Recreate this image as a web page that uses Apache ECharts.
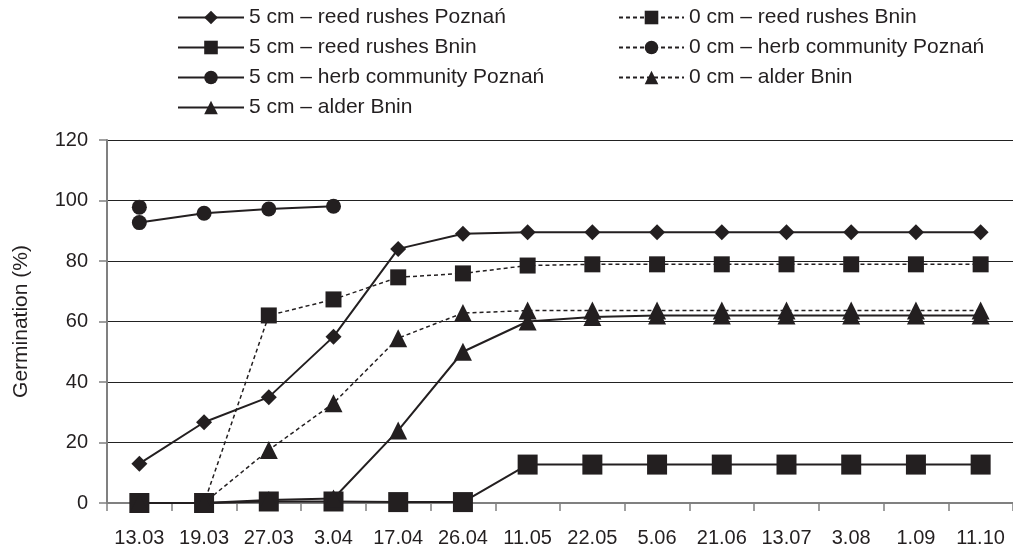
<!DOCTYPE html>
<html><head><meta charset="utf-8">
<script src="https://cdn.jsdelivr.net/npm/echarts@6/dist/echarts.min.js"></script>
<style>html,body{margin:0;padding:0;background:#fff}#c{width:1013px;height:554px}</style>
</head><body><div id="c"></div>
<script>
const categories = ['13.03','19.03','27.03','3.04','17.04','26.04','11.05','22.05','5.06','21.06','13.07','3.08','1.09','11.10'];
const yTicks = [0,20,40,60,80,100,120];
const reed5Poznan = [13,26.7,35,55,84,89,89.5,89.5,89.5,89.5,89.5,89.5,89.5,89.5];
const reed5Bnin   = [0,0,0.5,0.5,0.3,0.3,12.7,12.7,12.7,12.7,12.7,12.7,12.7,12.7];
const herb5Poznan = [92.7,95.8,97.2,98.1,null,null,null,null,null,null,null,null,null,null];
const alder5Bnin  = [0,0,1,1.5,24,50,60,61.5,62,62,62,62,62,62];
const reed0Bnin   = [0,0,62,67.3,74.6,75.9,78.5,78.9,78.9,78.9,78.9,78.9,78.9,78.9];
const herb0Poznan = [97.8,null,null,null,null,null,null,null,null,null,null,null,null,null];
const alder0Bnin  = [0,0,17.5,33,54.5,62.8,63.6,63.6,63.6,63.6,63.6,63.6,63.6,63.6];

const INK = '#231f20';
const FONT = '"Liberation Sans", Arial, sans-serif';
function solid(name, data, symbol, size){
  return {name, type:'line', data, symbol, symbolSize:size, connectNulls:false,
    lineStyle:{color:INK, width:2, type:'solid'}, itemStyle:{color:INK}, animation:false, z:3};
}
function dotted(name, data, symbol, size){
  return {name, type:'line', data, symbol, symbolSize:size, connectNulls:false,
    lineStyle:{color:INK, width:1.5, type:[4,3]}, itemStyle:{color:INK}, animation:false, z:2};
}
const series = [
  solid('5 cm – reed rushes Poznań', reed5Poznan, 'diamond', 16),
  solid('5 cm – reed rushes Bnin', reed5Bnin, 'rect', 20),
  solid('5 cm – herb community Poznań', herb5Poznan, 'circle', 15),
  solid('5 cm – alder Bnin', alder5Bnin, 'triangle', 18),
  dotted('0 cm – reed rushes Bnin', reed0Bnin, 'rect', 16),
  dotted('0 cm – herb community Poznań', herb0Poznan, 'circle', 15),
  dotted('0 cm – alder Bnin', alder0Bnin, 'triangle', 18)
];
const legendText = {color:INK, fontSize:21, fontFamily:FONT, lineHeight:20};
const chart = echarts.init(document.getElementById('c'), null, {renderer:'canvas'});
chart.setOption({
  backgroundColor:'#fff',
  animation:false,
  legend:[
    {orient:'vertical', left:177, top:7, itemWidth:66, itemHeight:17, itemGap:9, padding:0,
     textStyle:legendText, data:series.slice(0,4).map(s=>s.name)},
    {orient:'vertical', left:618, top:7, itemWidth:65, itemHeight:17, itemGap:9, padding:0,
     textStyle:legendText, data:series.slice(4).map(s=>s.name)}
  ],
  grid:{left:107, right:-4, top:140, bottom:51, containLabel:false},
  xAxis:{type:'category', data:categories, boundaryGap:true,
    axisLine:{lineStyle:{color:'#808080', width:2}},
    axisTick:{show:true, length:8, alignWithLabel:false, lineStyle:{color:'#808080', width:1.5}},
    axisLabel:{color:INK, fontSize:20, fontFamily:FONT, margin:25, interval:0},
    splitLine:{show:false}},
  yAxis:{type:'value', min:yTicks[0], max:yTicks[yTicks.length-1], interval:20,
    name:'Germination (%)', nameLocation:'middle', nameGap:75, nameRotate:90,
    nameTextStyle:{color:INK, fontSize:21, fontFamily:FONT},
    axisLine:{show:true, lineStyle:{color:'#808080', width:2}},
    axisTick:{show:true, length:8, lineStyle:{color:'#808080', width:1.5}},
    axisLabel:{color:INK, fontSize:20, fontFamily:FONT, margin:19},
    splitLine:{show:true, lineStyle:{color:'#222', width:1}}},
  series
});
</script></body></html>
